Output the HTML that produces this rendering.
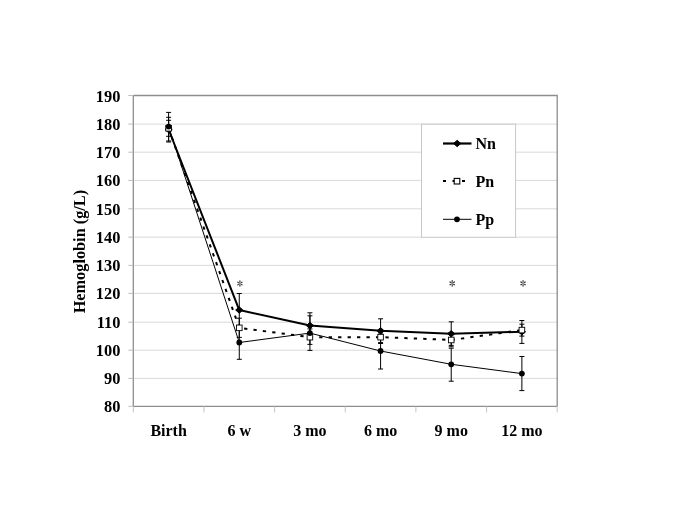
<!DOCTYPE html><html><head><meta charset="utf-8"><style>html,body{margin:0;padding:0;background:#fff;}svg{display:block;will-change:transform;}text{font-family:"Liberation Serif",serif;font-weight:bold;}</style></head><body>
<svg width="685" height="529" viewBox="0 0 685 529">
<rect width="685" height="529" fill="#fff"/>
<line x1="133.3" y1="378.40" x2="557.2" y2="378.40" stroke="#d9d9d9" stroke-width="1"/>
<line x1="133.3" y1="350.20" x2="557.2" y2="350.20" stroke="#d9d9d9" stroke-width="1"/>
<line x1="133.3" y1="322.20" x2="557.2" y2="322.20" stroke="#d9d9d9" stroke-width="1"/>
<line x1="133.3" y1="293.40" x2="557.2" y2="293.40" stroke="#d9d9d9" stroke-width="1"/>
<line x1="133.3" y1="265.40" x2="557.2" y2="265.40" stroke="#d9d9d9" stroke-width="1"/>
<line x1="133.3" y1="237.15" x2="557.2" y2="237.15" stroke="#d9d9d9" stroke-width="1"/>
<line x1="133.3" y1="208.80" x2="557.2" y2="208.80" stroke="#d9d9d9" stroke-width="1"/>
<line x1="133.3" y1="180.40" x2="557.2" y2="180.40" stroke="#d9d9d9" stroke-width="1"/>
<line x1="133.3" y1="152.20" x2="557.2" y2="152.20" stroke="#d9d9d9" stroke-width="1"/>
<line x1="133.3" y1="124.10" x2="557.2" y2="124.10" stroke="#d9d9d9" stroke-width="1"/>
<polyline points="133.3,95.5 557.2,95.5 557.2,406.4" fill="none" stroke="#8e8e8e" stroke-width="1.3"/>
<line x1="133.3" y1="95.5" x2="133.3" y2="406.4" stroke="#8e8e8e" stroke-width="1.3"/>
<line x1="133.3" y1="406.4" x2="557.2" y2="406.4" stroke="#8e8e8e" stroke-width="1.3"/>
<line x1="128.3" y1="406.30" x2="133.3" y2="406.30" stroke="#bdbdbd" stroke-width="1"/>
<line x1="128.3" y1="378.40" x2="133.3" y2="378.40" stroke="#bdbdbd" stroke-width="1"/>
<line x1="128.3" y1="350.20" x2="133.3" y2="350.20" stroke="#bdbdbd" stroke-width="1"/>
<line x1="128.3" y1="322.20" x2="133.3" y2="322.20" stroke="#bdbdbd" stroke-width="1"/>
<line x1="128.3" y1="293.40" x2="133.3" y2="293.40" stroke="#bdbdbd" stroke-width="1"/>
<line x1="128.3" y1="265.40" x2="133.3" y2="265.40" stroke="#bdbdbd" stroke-width="1"/>
<line x1="128.3" y1="237.15" x2="133.3" y2="237.15" stroke="#bdbdbd" stroke-width="1"/>
<line x1="128.3" y1="208.80" x2="133.3" y2="208.80" stroke="#bdbdbd" stroke-width="1"/>
<line x1="128.3" y1="180.40" x2="133.3" y2="180.40" stroke="#bdbdbd" stroke-width="1"/>
<line x1="128.3" y1="152.20" x2="133.3" y2="152.20" stroke="#bdbdbd" stroke-width="1"/>
<line x1="128.3" y1="124.10" x2="133.3" y2="124.10" stroke="#bdbdbd" stroke-width="1"/>
<line x1="128.3" y1="95.50" x2="133.3" y2="95.50" stroke="#bdbdbd" stroke-width="1"/>
<line x1="133.30" y1="406.4" x2="133.30" y2="412.4" stroke="#c4c4c4" stroke-width="1"/>
<line x1="203.95" y1="406.4" x2="203.95" y2="412.4" stroke="#c4c4c4" stroke-width="1"/>
<line x1="274.60" y1="406.4" x2="274.60" y2="412.4" stroke="#c4c4c4" stroke-width="1"/>
<line x1="345.25" y1="406.4" x2="345.25" y2="412.4" stroke="#c4c4c4" stroke-width="1"/>
<line x1="415.90" y1="406.4" x2="415.90" y2="412.4" stroke="#c4c4c4" stroke-width="1"/>
<line x1="486.55" y1="406.4" x2="486.55" y2="412.4" stroke="#c4c4c4" stroke-width="1"/>
<line x1="557.20" y1="406.4" x2="557.20" y2="412.4" stroke="#c4c4c4" stroke-width="1"/>
<text x="120.4" y="412.30" font-size="16.4" text-anchor="end">80</text>
<text x="120.4" y="384.40" font-size="16.4" text-anchor="end">90</text>
<text x="120.4" y="356.20" font-size="16.4" text-anchor="end">100</text>
<text x="120.4" y="328.20" font-size="16.4" text-anchor="end">110</text>
<text x="120.4" y="299.40" font-size="16.4" text-anchor="end">120</text>
<text x="120.4" y="271.40" font-size="16.4" text-anchor="end">130</text>
<text x="120.4" y="243.15" font-size="16.4" text-anchor="end">140</text>
<text x="120.4" y="214.80" font-size="16.4" text-anchor="end">150</text>
<text x="120.4" y="186.40" font-size="16.4" text-anchor="end">160</text>
<text x="120.4" y="158.20" font-size="16.4" text-anchor="end">170</text>
<text x="120.4" y="130.10" font-size="16.4" text-anchor="end">180</text>
<text x="120.4" y="101.50" font-size="16.4" text-anchor="end">190</text>
<text x="168.62" y="436.1" font-size="16" text-anchor="middle">Birth</text>
<text x="239.28" y="436.1" font-size="16" text-anchor="middle">6 w</text>
<text x="309.93" y="436.1" font-size="16" text-anchor="middle">3 mo</text>
<text x="380.58" y="436.1" font-size="16" text-anchor="middle">6 mo</text>
<text x="451.23" y="436.1" font-size="16" text-anchor="middle">9 mo</text>
<text x="521.88" y="436.1" font-size="16" text-anchor="middle">12 mo</text>
<text transform="translate(84.9,251.6) rotate(-90)" font-size="16.3" text-anchor="middle">Hemoglobin (g/L)</text>
<rect x="421.5" y="124.2" width="94.1" height="113.1" fill="#fff" stroke="#c8c8c8" stroke-width="1"/>
<line x1="168.62" y1="117.30" x2="168.62" y2="142.00" stroke="#000" stroke-width="1"/>
<line x1="166.12" y1="117.30" x2="171.12" y2="117.30" stroke="#000" stroke-width="1"/>
<line x1="166.12" y1="142.00" x2="171.12" y2="142.00" stroke="#000" stroke-width="1"/>
<line x1="239.28" y1="293.50" x2="239.28" y2="326.70" stroke="#000" stroke-width="1"/>
<line x1="236.78" y1="293.50" x2="241.78" y2="293.50" stroke="#000" stroke-width="1"/>
<line x1="236.78" y1="326.70" x2="241.78" y2="326.70" stroke="#000" stroke-width="1"/>
<line x1="309.93" y1="312.80" x2="309.93" y2="338.00" stroke="#000" stroke-width="1"/>
<line x1="307.43" y1="312.80" x2="312.43" y2="312.80" stroke="#000" stroke-width="1"/>
<line x1="307.43" y1="338.00" x2="312.43" y2="338.00" stroke="#000" stroke-width="1"/>
<line x1="380.58" y1="318.80" x2="380.58" y2="342.60" stroke="#000" stroke-width="1"/>
<line x1="378.08" y1="318.80" x2="383.08" y2="318.80" stroke="#000" stroke-width="1"/>
<line x1="378.08" y1="342.60" x2="383.08" y2="342.60" stroke="#000" stroke-width="1"/>
<line x1="451.23" y1="321.80" x2="451.23" y2="345.40" stroke="#000" stroke-width="1"/>
<line x1="448.73" y1="321.80" x2="453.73" y2="321.80" stroke="#000" stroke-width="1"/>
<line x1="448.73" y1="345.40" x2="453.73" y2="345.40" stroke="#000" stroke-width="1"/>
<line x1="521.88" y1="320.50" x2="521.88" y2="343.40" stroke="#000" stroke-width="1"/>
<line x1="519.38" y1="320.50" x2="524.38" y2="320.50" stroke="#000" stroke-width="1"/>
<line x1="519.38" y1="343.40" x2="524.38" y2="343.40" stroke="#000" stroke-width="1"/>
<line x1="168.62" y1="120.30" x2="168.62" y2="136.30" stroke="#000" stroke-width="1"/>
<line x1="166.12" y1="120.30" x2="171.12" y2="120.30" stroke="#000" stroke-width="1"/>
<line x1="166.12" y1="136.30" x2="171.12" y2="136.30" stroke="#000" stroke-width="1"/>
<line x1="239.28" y1="318.20" x2="239.28" y2="337.40" stroke="#000" stroke-width="1"/>
<line x1="236.78" y1="318.20" x2="241.78" y2="318.20" stroke="#000" stroke-width="1"/>
<line x1="236.78" y1="337.40" x2="241.78" y2="337.40" stroke="#000" stroke-width="1"/>
<line x1="309.93" y1="328.90" x2="309.93" y2="344.40" stroke="#000" stroke-width="1"/>
<line x1="307.43" y1="328.90" x2="312.43" y2="328.90" stroke="#000" stroke-width="1"/>
<line x1="307.43" y1="344.40" x2="312.43" y2="344.40" stroke="#000" stroke-width="1"/>
<line x1="380.58" y1="330.50" x2="380.58" y2="343.50" stroke="#000" stroke-width="1"/>
<line x1="378.08" y1="330.50" x2="383.08" y2="330.50" stroke="#000" stroke-width="1"/>
<line x1="378.08" y1="343.50" x2="383.08" y2="343.50" stroke="#000" stroke-width="1"/>
<line x1="451.23" y1="333.00" x2="451.23" y2="346.80" stroke="#000" stroke-width="1"/>
<line x1="448.73" y1="333.00" x2="453.73" y2="333.00" stroke="#000" stroke-width="1"/>
<line x1="448.73" y1="346.80" x2="453.73" y2="346.80" stroke="#000" stroke-width="1"/>
<line x1="521.88" y1="324.20" x2="521.88" y2="336.10" stroke="#000" stroke-width="1"/>
<line x1="519.38" y1="324.20" x2="524.38" y2="324.20" stroke="#000" stroke-width="1"/>
<line x1="519.38" y1="336.10" x2="524.38" y2="336.10" stroke="#000" stroke-width="1"/>
<line x1="168.62" y1="112.40" x2="168.62" y2="141.00" stroke="#000" stroke-width="1"/>
<line x1="166.12" y1="112.40" x2="171.12" y2="112.40" stroke="#000" stroke-width="1"/>
<line x1="166.12" y1="141.00" x2="171.12" y2="141.00" stroke="#000" stroke-width="1"/>
<line x1="239.28" y1="325.70" x2="239.28" y2="359.30" stroke="#000" stroke-width="1"/>
<line x1="236.78" y1="325.70" x2="241.78" y2="325.70" stroke="#000" stroke-width="1"/>
<line x1="236.78" y1="359.30" x2="241.78" y2="359.30" stroke="#000" stroke-width="1"/>
<line x1="309.93" y1="315.80" x2="309.93" y2="350.40" stroke="#000" stroke-width="1"/>
<line x1="307.43" y1="315.80" x2="312.43" y2="315.80" stroke="#000" stroke-width="1"/>
<line x1="307.43" y1="350.40" x2="312.43" y2="350.40" stroke="#000" stroke-width="1"/>
<line x1="380.58" y1="333.00" x2="380.58" y2="369.00" stroke="#000" stroke-width="1"/>
<line x1="378.08" y1="333.00" x2="383.08" y2="333.00" stroke="#000" stroke-width="1"/>
<line x1="378.08" y1="369.00" x2="383.08" y2="369.00" stroke="#000" stroke-width="1"/>
<line x1="451.23" y1="348.20" x2="451.23" y2="381.20" stroke="#000" stroke-width="1"/>
<line x1="448.73" y1="348.20" x2="453.73" y2="348.20" stroke="#000" stroke-width="1"/>
<line x1="448.73" y1="381.20" x2="453.73" y2="381.20" stroke="#000" stroke-width="1"/>
<line x1="521.88" y1="356.50" x2="521.88" y2="390.60" stroke="#000" stroke-width="1"/>
<line x1="519.38" y1="356.50" x2="524.38" y2="356.50" stroke="#000" stroke-width="1"/>
<line x1="519.38" y1="390.60" x2="524.38" y2="390.60" stroke="#000" stroke-width="1"/>
<polyline points="168.62,129.50 239.28,310.02 309.93,325.57 380.58,330.79 451.23,333.76 521.88,331.78" fill="none" stroke="#000" stroke-width="2" stroke-linejoin="round"/>
<polyline points="168.62,128.29 239.28,327.83" fill="none" stroke="#000" stroke-width="2" stroke-dasharray="3.3 6.16" stroke-dashoffset="9.34"/>
<polyline points="239.28,327.83 309.93,337.15 380.58,337.15 451.23,339.98 521.88,330.09" fill="none" stroke="#000" stroke-width="2" stroke-dasharray="3.3 6.16" stroke-dashoffset="4.62"/>
<polyline points="168.62,126.59 239.28,342.52 309.93,333.08 380.58,351.00 451.23,364.29 521.88,373.61" fill="none" stroke="#000" stroke-width="1"/>
<polygon points="168.62,126.30 172.22,129.50 168.62,132.70 165.03,129.50" fill="#000" stroke="#000" stroke-width="1.0" stroke-linejoin="round"/>
<polygon points="239.28,306.82 242.88,310.02 239.28,313.22 235.68,310.02" fill="#000" stroke="#000" stroke-width="1.0" stroke-linejoin="round"/>
<polygon points="309.93,322.37 313.53,325.57 309.93,328.77 306.32,325.57" fill="#000" stroke="#000" stroke-width="1.0" stroke-linejoin="round"/>
<polygon points="380.58,327.59 384.18,330.79 380.58,333.99 376.98,330.79" fill="#000" stroke="#000" stroke-width="1.0" stroke-linejoin="round"/>
<polygon points="451.23,330.56 454.83,333.76 451.23,336.96 447.62,333.76" fill="#000" stroke="#000" stroke-width="1.0" stroke-linejoin="round"/>
<polygon points="521.88,328.58 525.48,331.78 521.88,334.98 518.27,331.78" fill="#000" stroke="#000" stroke-width="1.0" stroke-linejoin="round"/>
<rect x="165.82" y="125.49" width="5.60" height="5.60" fill="#fff" stroke="#000" stroke-width="0.9"/>
<rect x="236.48" y="325.03" width="5.60" height="5.60" fill="#fff" stroke="#000" stroke-width="0.9"/>
<rect x="307.12" y="334.35" width="5.60" height="5.60" fill="#fff" stroke="#000" stroke-width="0.9"/>
<rect x="377.78" y="334.35" width="5.60" height="5.60" fill="#fff" stroke="#000" stroke-width="0.9"/>
<rect x="448.43" y="337.18" width="5.60" height="5.60" fill="#fff" stroke="#000" stroke-width="0.9"/>
<rect x="519.08" y="327.29" width="5.60" height="5.60" fill="#fff" stroke="#000" stroke-width="0.9"/>
<circle cx="168.62" cy="126.59" r="2.9" fill="#000"/>
<circle cx="239.28" cy="342.52" r="2.9" fill="#000"/>
<circle cx="309.93" cy="333.08" r="2.9" fill="#000"/>
<circle cx="380.58" cy="351.00" r="2.9" fill="#000"/>
<circle cx="451.23" cy="364.29" r="2.9" fill="#000"/>
<circle cx="521.88" cy="373.61" r="2.9" fill="#000"/>
<line x1="443" y1="143.5" x2="471.5" y2="143.5" stroke="#000" stroke-width="2.2"/>
<polygon points="457.20,140.30 460.80,143.50 457.20,146.70 453.60,143.50" fill="#000" stroke="#000" stroke-width="1.0" stroke-linejoin="round"/>
<line x1="443" y1="181" x2="471.5" y2="181" stroke="#000" stroke-width="2" stroke-dasharray="3 6.5"/>
<rect x="454.20" y="178.40" width="5.60" height="5.60" fill="#fff" stroke="#000" stroke-width="1.1"/>
<line x1="443" y1="219.3" x2="471.5" y2="219.3" stroke="#000" stroke-width="1"/>
<circle cx="457.00" cy="219.30" r="2.9" fill="#000"/>
<text x="475.5" y="149.3" font-size="16">Nn</text>
<text x="475.5" y="186.8" font-size="16">Pn</text>
<text x="475.5" y="224.8" font-size="16">Pp</text>
<g transform="translate(239.9,283.5)" fill="#333"><path d="M-0.28,-0.6 L-0.7,-2.8 Q0,-3.75 0.7,-2.8 L0.28,-0.6 Z" transform="rotate(0)"/><path d="M-0.28,-0.6 L-0.7,-2.8 Q0,-3.75 0.7,-2.8 L0.28,-0.6 Z" transform="rotate(57)"/><path d="M-0.28,-0.6 L-0.7,-2.8 Q0,-3.75 0.7,-2.8 L0.28,-0.6 Z" transform="rotate(123)"/><path d="M-0.28,-0.6 L-0.7,-2.8 Q0,-3.75 0.7,-2.8 L0.28,-0.6 Z" transform="rotate(180)"/><path d="M-0.28,-0.6 L-0.7,-2.8 Q0,-3.75 0.7,-2.8 L0.28,-0.6 Z" transform="rotate(237)"/><path d="M-0.28,-0.6 L-0.7,-2.8 Q0,-3.75 0.7,-2.8 L0.28,-0.6 Z" transform="rotate(303)"/><circle r="0.7" fill="#777"/></g>
<g transform="translate(452.2,283.4)" fill="#333"><path d="M-0.28,-0.6 L-0.7,-2.8 Q0,-3.75 0.7,-2.8 L0.28,-0.6 Z" transform="rotate(0)"/><path d="M-0.28,-0.6 L-0.7,-2.8 Q0,-3.75 0.7,-2.8 L0.28,-0.6 Z" transform="rotate(57)"/><path d="M-0.28,-0.6 L-0.7,-2.8 Q0,-3.75 0.7,-2.8 L0.28,-0.6 Z" transform="rotate(123)"/><path d="M-0.28,-0.6 L-0.7,-2.8 Q0,-3.75 0.7,-2.8 L0.28,-0.6 Z" transform="rotate(180)"/><path d="M-0.28,-0.6 L-0.7,-2.8 Q0,-3.75 0.7,-2.8 L0.28,-0.6 Z" transform="rotate(237)"/><path d="M-0.28,-0.6 L-0.7,-2.8 Q0,-3.75 0.7,-2.8 L0.28,-0.6 Z" transform="rotate(303)"/><circle r="0.7" fill="#777"/></g>
<g transform="translate(523.05,283.35)" fill="#333"><path d="M-0.28,-0.6 L-0.7,-2.8 Q0,-3.75 0.7,-2.8 L0.28,-0.6 Z" transform="rotate(0)"/><path d="M-0.28,-0.6 L-0.7,-2.8 Q0,-3.75 0.7,-2.8 L0.28,-0.6 Z" transform="rotate(57)"/><path d="M-0.28,-0.6 L-0.7,-2.8 Q0,-3.75 0.7,-2.8 L0.28,-0.6 Z" transform="rotate(123)"/><path d="M-0.28,-0.6 L-0.7,-2.8 Q0,-3.75 0.7,-2.8 L0.28,-0.6 Z" transform="rotate(180)"/><path d="M-0.28,-0.6 L-0.7,-2.8 Q0,-3.75 0.7,-2.8 L0.28,-0.6 Z" transform="rotate(237)"/><path d="M-0.28,-0.6 L-0.7,-2.8 Q0,-3.75 0.7,-2.8 L0.28,-0.6 Z" transform="rotate(303)"/><circle r="0.7" fill="#777"/></g>
</svg></body></html>
